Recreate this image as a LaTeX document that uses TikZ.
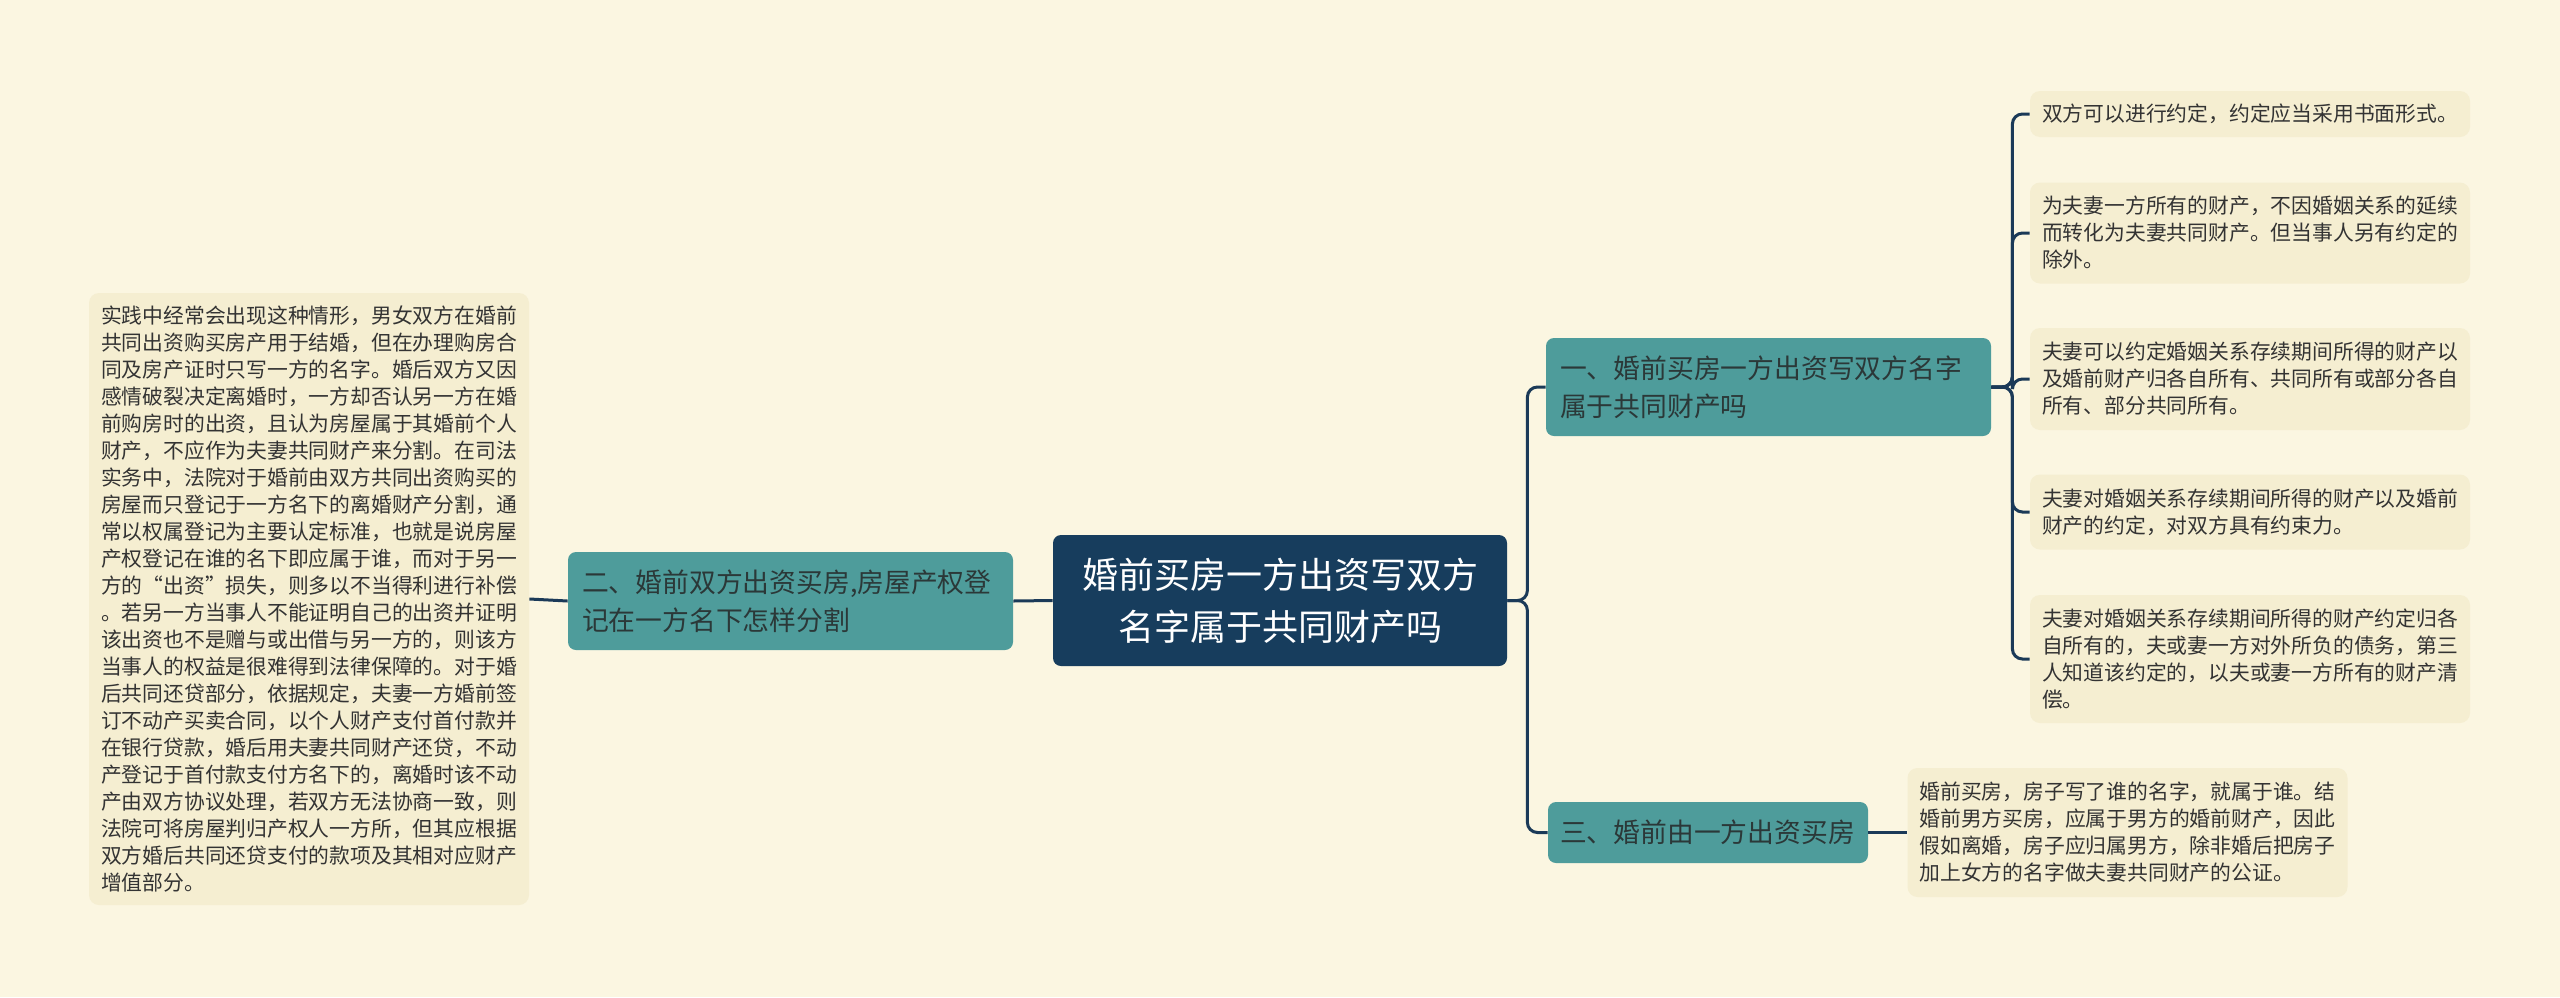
\documentclass[tikz,border=0pt]{standalone}
\usepackage{fontspec}
\setmainfont{Noto Sans CJK SC}
\definecolor{bgcream}{HTML}{FBF6E1}
\definecolor{leafcream}{HTML}{F5EED1}
\definecolor{leaftext}{HTML}{333333}
\definecolor{rootblue}{HTML}{173D5D}
\definecolor{branchteal}{HTML}{4E9C9B}
\definecolor{branchtext}{HTML}{2B3838}
\definecolor{linkblue}{HTML}{1B3A58}

\begin{document}
\begin{tikzpicture}[
  x=0.5pt, y=-0.5pt,
  every node/.style={font=\fontsize{10.4}{13.5}\selectfont},
  root/.style={fill=rootblue, text=white, rounded corners=4pt, align=center,
    font=\fontsize{18}{26}\selectfont, minimum width=227pt, minimum height=65.5pt},
  branch/.style={fill=branchteal, text=branchtext, rounded corners=4pt, align=left,
    font=\fontsize{13.4}{19}\selectfont, inner xsep=7pt},
  leaf/.style={fill=leafcream, text=leaftext, rounded corners=5pt, align=left,
    text width=208pt, inner xsep=6pt},
  link/.style={draw=linkblue, line width=1.5pt, rounded corners=5pt}
]

\fill[bgcream] (0,0) rectangle (2560,997);

\node[root] (root) at (1280,600.5) {婚前买房一方出资写双方\\名字属于共同财产吗};

\node[branch, text width=208.5pt, minimum height=49pt] (b1) at (1768.5,387)
  {一、婚前买房一方出资写双方名字\\属于共同财产吗};
\node[branch, text width=208.5pt, minimum height=49pt] (b2) at (790.5,601)
  {二、婚前双方出资买房,房屋产权登\\记在一方名下怎样分割};
\node[branch, text width=148pt, inner xsep=6pt, minimum height=30.5pt] (b3) at (1708,832.5)
  {三、婚前由一方出资买房};

\node[leaf, minimum height=23pt] (l1) at (2250,114)
  {双方可以进行约定，约定应当采用书面形式。};
\node[leaf, minimum height=50.5pt] (l2) at (2250,233)
  {为夫妻一方所有的财产，不因婚姻关系的延续\\而转化为夫妻共同财产。但当事人另有约定的\\除外。};
\node[leaf, minimum height=51pt] (l3) at (2250,379)
  {夫妻可以约定婚姻关系存续期间所得的财产以\\及婚前财产归各自所有、共同所有或部分各自\\所有、部分共同所有。};
\node[leaf, minimum height=37.5pt] (l4) at (2250,512)
  {夫妻对婚姻关系存续期间所得的财产以及婚前\\财产的约定，对双方具有约束力。};
\node[leaf, minimum height=64pt] (l5) at (2250,659)
  {夫妻对婚姻关系存续期间所得的财产约定归各\\自所有的，夫或妻一方对外所负的债务，第三\\人知道该约定的，以夫或妻一方所有的财产清\\偿。};
\node[leaf, minimum height=64.5pt] (l6) at (2127.5,832.5)
  {婚前买房，房子写了谁的名字，就属于谁。结\\婚前男方买房，应属于男方的婚前财产，因此\\假如离婚，房子应归属男方，除非婚后把房子\\加上女方的名字做夫妻共同财产的公证。};
\node[leaf, minimum height=306pt] (lp) at (309,599)
  {实践中经常会出现这种情形，男女双方在婚前\\共同出资购买房产用于结婚，但在办理购房合\\同及房产证时只写一方的名字。婚后双方又因\\感情破裂决定离婚时，一方却否认另一方在婚\\前购房时的出资，且认为房屋属于其婚前个人\\财产，不应作为夫妻共同财产来分割。在司法\\实务中，法院对于婚前由双方共同出资购买的\\房屋而只登记于一方名下的离婚财产分割，通\\常以权属登记为主要认定标准，也就是说房屋\\产权登记在谁的名下即应属于谁，而对于另一\\方的“出资”损失，则多以不当得利进行补偿\\。若另一方当事人不能证明自己的出资并证明\\该出资也不是赠与或出借与另一方的，则该方\\当事人的权益是很难得到法律保障的。对于婚\\后共同还贷部分，依据规定，夫妻一方婚前签\\订不动产买卖合同，以个人财产支付首付款并\\在银行贷款，婚后用夫妻共同财产还贷，不动\\产登记于首付款支付方名下的，离婚时该不动\\产由双方协议处理，若双方无法协商一致，则\\法院可将房屋判归产权人一方所，但其应根据\\双方婚后共同还贷支付的款项及其相对应财产\\增值部分。};

\draw[link] (root.west) -- (b2.east);
\draw[link] (b2.west) -- (lp.east);
\draw[link] (root.east) -- ++(20,0) |- (b1.west);
\draw[link] (root.east) -- ++(20,0) |- (b3.west);
\foreach \leafname in {l1,l2,l3,l4,l5}
  \draw[link] (b1.east) -- ++(21,0) |- (\leafname.west);
\draw[link] (b3.east) -- (l6.west);

\end{tikzpicture}
\end{document}
